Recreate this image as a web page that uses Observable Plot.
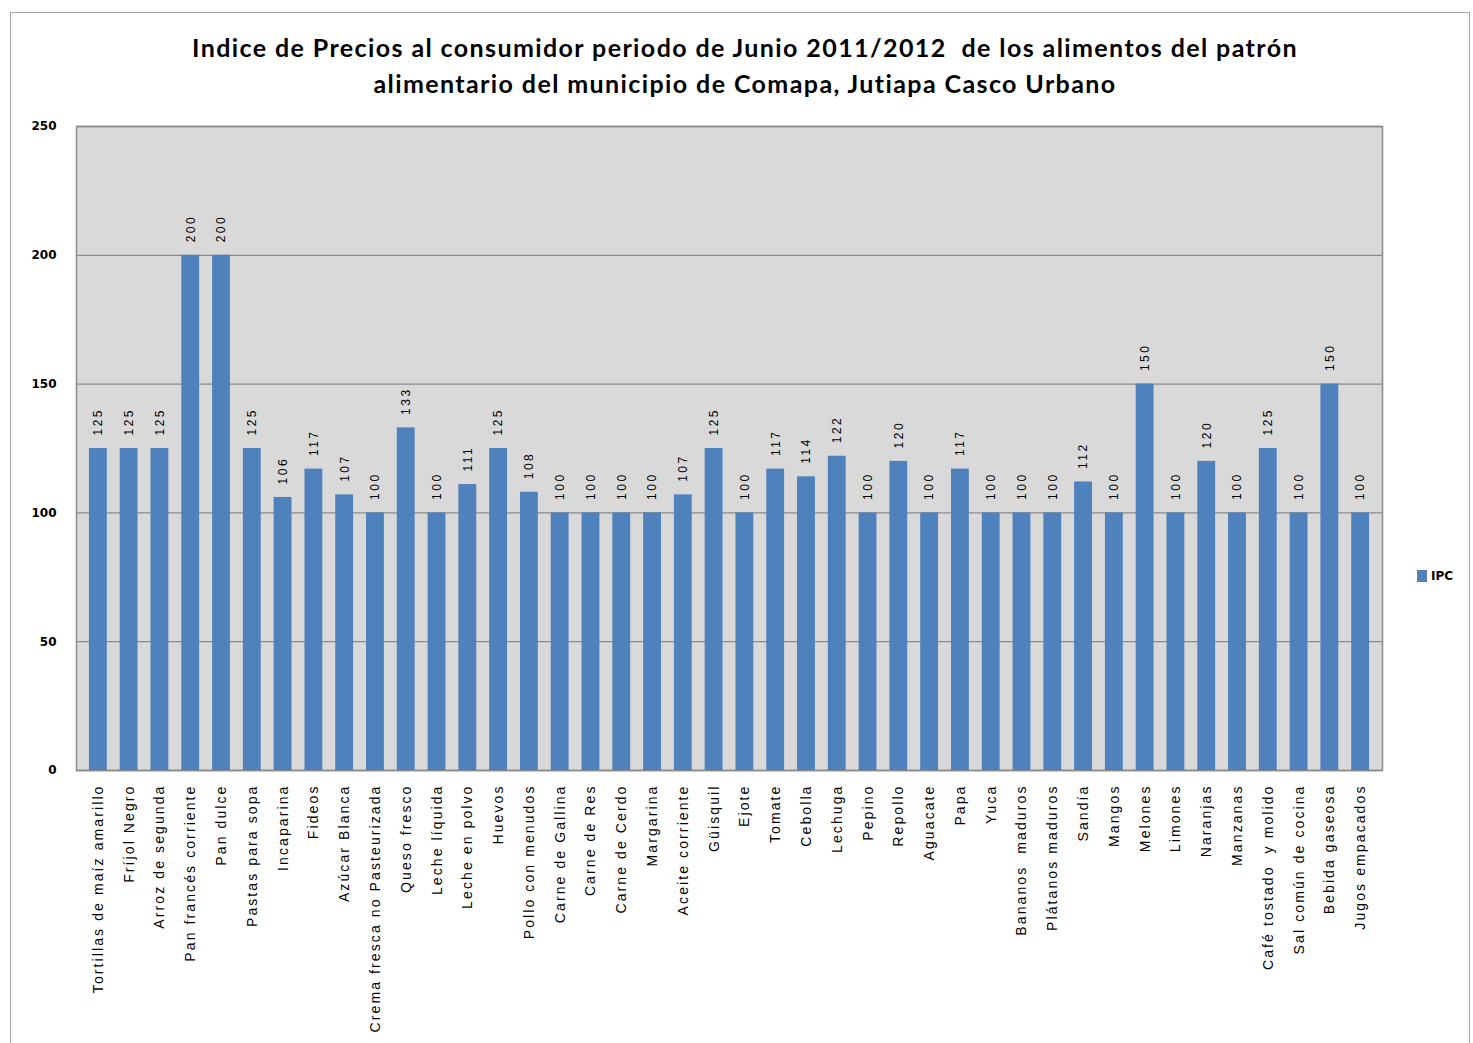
<!DOCTYPE html>
<html>
<head>
<meta charset="utf-8">
<script src="https://cdn.jsdelivr.net/npm/d3@7"></script>
<script src="https://cdn.jsdelivr.net/npm/@observablehq/plot@0.6"></script>
<style>
  html, body { margin: 0; padding: 0; background: #fff; }
  #wrap { position: relative; width: 1473px; height: 1043px; overflow: hidden; }
  #border { position: absolute; left: 10px; top: 12px; width: 1460px; height: 1040px; border: 1px solid #a6a6a6; box-sizing: border-box; }
  #title { position: absolute; left: 0; width: 1490px; top: 29px; text-align: center; font-family: Lato, "Open Sans", sans-serif; font-weight: bold; font-size: 25px; letter-spacing: 1.4px; line-height: 36px; color: #000; white-space: pre; }
  #chart { position: absolute; left: 0; top: 0; }
  #legend { position: absolute; left: 1417px; top: 569px; font-family: "DejaVu Sans", sans-serif; font-size: 12px; font-weight: bold; color: #000; display: flex; align-items: center; }
  #legend span.sw { display: inline-block; width: 10px; height: 12px; background: #4f81bd; margin-right: 4px; }
  .xlab text { letter-spacing: 2.1px; }
  .vlab text { letter-spacing: 2.5px; }
</style>
</head>
<body>
<div id="wrap">
  <div id="border"></div>
  <div id="title">Indice de Precios al consumidor periodo de Junio 2011/2012  de los alimentos del patrón
alimentario del municipio de Comapa, Jutiapa Casco Urbano</div>
  <div id="chart"></div>
  <div id="legend"><span class="sw"></span>IPC</div>
</div>
<script>
const categories = [
  "Tortillas de maíz amarillo", "Fríjol Negro", "Arroz de segunda", "Pan francés corriente", "Pan dulce",
  "Pastas para sopa", "Incaparina", "Fideos", "Azúcar Blanca", "Crema fresca no Pasteurizada",
  "Queso fresco", "Leche líquida", "Leche en polvo", "Huevos", "Pollo con menudos",
  "Carne de Gallina", "Carne de Res", "Carne de Cerdo", "Margarina", "Aceite corriente",
  "Güisquil", "Ejote", "Tomate", "Cebolla", "Lechuga",
  "Pepino", "Repollo", "Aguacate", "Papa", "Yuca",
  "Bananos  maduros", "Plátanos maduros", "Sandía", "Mangos", "Melones",
  "Limones", "Naranjas", "Manzanas", "Café tostado  y molido", "Sal común de cocina",
  "Bebida gaseosa", "Jugos empacados"
];
const ipc = [
  125, 125, 125, 200, 200,
  125, 106, 117, 107, 100,
  133, 100, 111, 125, 108,
  100, 100, 100, 100, 107,
  125, 100, 117, 114, 122,
  100, 120, 100, 117, 100,
  100, 100, 112, 100, 150,
  100, 120, 100, 125, 100,
  150, 100
];
const yTicks = [0, 50, 100, 150, 200, 250];

const data = categories.map((c, i) => ({cat: c, v: ipc[i]}));

const chart = Plot.plot({
  width: 1473,
  height: 1043,
  marginLeft: 76,
  marginRight: 91,
  marginTop: 126,
  marginBottom: 273,
  style: {background: "transparent", fontFamily: "'DejaVu Sans', sans-serif"},
  x: {domain: categories, padding: 0.42, label: null},
  y: {domain: [0, 250], label: null},
  marks: [
    Plot.frame({fill: "#d9d9d9", stroke: "none"}),
    Plot.gridY(yTicks, {stroke: "#8a8a8a", strokeOpacity: 1, strokeWidth: 1.3}),
    Plot.frame({stroke: "#8a8a8a", strokeWidth: 1.5}),
    Plot.barY(data, {x: "cat", y: "v", fill: "#4f81bd"}),
    Plot.text(data, {x: "cat", y: "v", text: d => String(d.v), rotate: -90, textAnchor: "start", dy: -13, fontSize: 12, fill: "#000", fontFamily: "'Liberation Sans', sans-serif", className: "vlab"}),
    Plot.axisY({ticks: yTicks, tickSize: 0, tickPadding: 20, fontSize: 12, fontWeight: "bold", label: null, fill: "#000"}),
    Plot.axisX({tickRotate: -90, tickSize: 0, tickPadding: 14, fontSize: 14, label: null, fill: "#000", fontFamily: "'Liberation Sans', sans-serif", className: "xlab"})
  ]
});
document.getElementById("chart").appendChild(chart);
</script>
</body>
</html>
